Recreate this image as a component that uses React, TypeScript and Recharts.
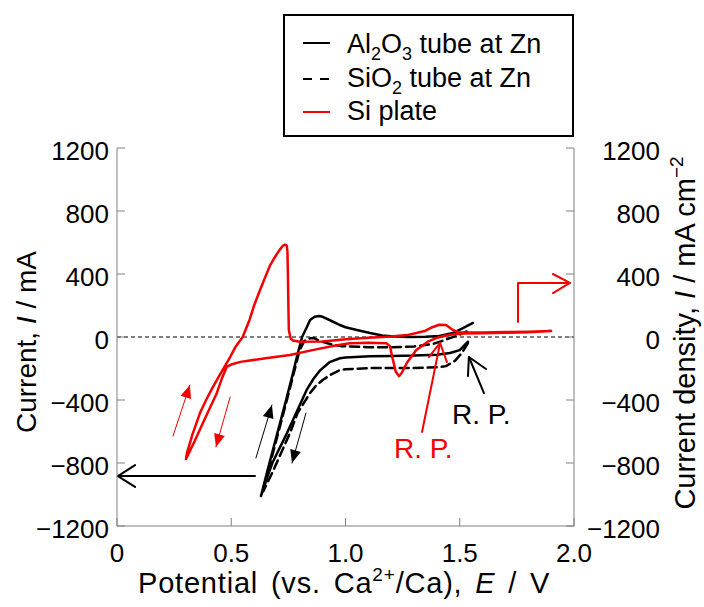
import React from 'react';
import { ComposedChart, Line, XAxis, YAxis, ReferenceLine, Scatter, Legend } from 'recharts';

const FONT = '"Liberation Sans", Arial, Helvetica, sans-serif';
const RED = '#f50000';
const GRID = '#808080';

type P = { x: number; y: number };
const pts = (arr: number[][]): P[] => arr.map(([x, y]) => ({ x, y }));

// axis ticks
const xTicks = [0, 0.5, 1.0, 1.5, 2.0];
const yTicks = [-1200, -800, -400, 0, 400, 800, 1200];

// Al2O3 tube at Zn (solid black): potential (V), current (mA)
const al2o3 = pts([
  [1.536, -30], [1.50, -83], [1.457, -102], [1.40, -112], [1.30, -118], [1.20, -120],
  [1.107, -122], [1.0, -130], [0.976, -135], [0.93, -160], [0.89, -210], [0.86, -265],
  [0.83, -336], [0.79, -463], [0.744, -610], [0.70, -740], [0.68, -800], [0.65, -920],
  [0.63, -1010],
  [0.66, -840], [0.70, -620], [0.74, -400], [0.77, -230], [0.79, -110], [0.81, 0],
  [0.83, 60], [0.845, 108], [0.865, 128], [0.885, 133], [0.90, 128], [0.93, 108],
  [0.976, 76], [1.0, 62], [1.05, 45], [1.107, 25], [1.16, 10], [1.2, 5], [1.27, 0],
  [1.35, 2], [1.41, 6], [1.47, 25], [1.514, 57], [1.558, 89],
]);

// SiO2 tube at Zn (dashed black)
const sio2 = pts([
  [1.536, -38], [1.51, -100], [1.48, -150], [1.44, -185], [1.41, -192], [1.3, -197],
  [1.2, -197], [1.107, -197], [1.0, -205], [0.976, -210], [0.94, -235], [0.9, -273],
  [0.87, -310], [0.845, -356], [0.79, -483], [0.757, -610], [0.72, -730], [0.68, -860],
  [0.64, -980],
  [0.66, -860], [0.70, -640], [0.74, -420], [0.77, -250], [0.80, -80], [0.82, -25],
  [0.845, -8], [0.86, -6], [0.88, -20], [0.92, -40], [0.98, -58], [1.1, -65], [1.2, -65],
  [1.3, -60], [1.38, -45], [1.41, -32], [1.46, -6], [1.5, 15], [1.53, 35],
]);

// Si plate (red)
const siPlate = pts([
  [1.44, 10], [1.40, -5], [1.36, -30], [1.31, -83], [1.27, -160], [1.245, -230],
  [1.234, -248], [1.22, -220], [1.205, -130], [1.195, -60], [1.18, -40], [1.1, -37],
  [1.02, -40], [0.95, -55], [0.85, -85], [0.757, -114], [0.65, -135], [0.54, -158],
  [0.5, -175], [0.48, -190], [0.46, -260], [0.437, -355], [0.41, -440], [0.376, -546],
  [0.34, -660], [0.302, -775],
  [0.306, -737], [0.33, -620], [0.363, -483], [0.39, -400], [0.42, -317], [0.46, -215],
  [0.495, -127], [0.52, -60], [0.55, 0], [0.58, 108], [0.60, 200], [0.626, 298],
  [0.65, 385], [0.67, 455], [0.69, 505], [0.71, 550], [0.725, 578], [0.735, 586],
  [0.743, 580], [0.746, 540], [0.748, 400], [0.750, 200], [0.752, 44], [0.76, -10],
  [0.77, -22], [0.8, -30], [0.9, -28], [1.0, -15], [1.1, -5], [1.2, 3], [1.27, 12],
  [1.31, 25], [1.35, 40], [1.38, 62], [1.41, 78], [1.44, 76], [1.47, 45], [1.5, 28],
  [1.6, 28], [1.7, 31], [1.8, 34], [1.9, 38],
  [1.8, 30], [1.7, 27], [1.6, 24], [1.5, 22], [1.46, 15], [1.44, 10],
]);

// annotations (data coordinates)
const leftArrowShaft = pts([[0.604, -883], [0.004, -883]]);
const leftArrowHead = pts([[0.079, -813], [0.004, -883], [0.079, -952]]);
const rightArrowShaft = pts([[1.755, 95], [1.755, 343], [1.982, 343]]);
const rightArrowHead = pts([[1.908, 400], [1.982, 343], [1.908, 279]]);
const blackRPShaft = pts([[1.606, -356], [1.540, -127]]);
const blackRPHead = pts([[1.536, -248], [1.540, -127], [1.615, -203]]);
const redRPShaft = pts([[1.335, -603], [1.414, -38]]);
const redRPHead = pts([[1.365, -127], [1.414, -38], [1.444, -159]]);
const blackUp = pts([[0.608, -768], [0.678, -432]]);
const blackDown = pts([[0.827, -483], [0.766, -800]]);
const redUp = pts([[0.245, -629], [0.319, -305]]);
const redDown = pts([[0.495, -381], [0.433, -698]]);
const blackRPLabel = [{ x: 1.466, y: -552, text: 'R. P.' }];
const redRPLabel = [{ x: 1.212, y: -768, text: 'R. P.' }];

const fmtY = (v: number) => (v < 0 ? '\u2212' + Math.abs(v) : String(v));
const fmtX = (v: number) => (v === 0 ? '0' : v.toFixed(1));

const makeArrowDot = (color: string) => (props: any) => {
  const { cx, cy, index, points } = props;
  if (!points || index !== points.length - 1) return <g key={`d${index}`} />;
  const p0 = points[0];
  const ang = Math.atan2(cy - p0.y, cx - p0.x);
  const L = 13;
  const W = 5.5;
  const bx = cx - L * Math.cos(ang);
  const by = cy - L * Math.sin(ang);
  const nx = -Math.sin(ang) * W;
  const ny = Math.cos(ang) * W;
  return (
    <polygon
      key={`d${index}`}
      points={`${cx},${cy} ${bx + nx},${by + ny} ${bx - nx},${by - ny}`}
      fill={color}
    />
  );
};

const textStyle = { fontFamily: FONT, fill: '#000' };

const LeftTick = (p: any) => (
  <text x={p.x} y={p.y + 3} dy="0.355em" textAnchor="end" fontSize={26} style={textStyle}>
    {fmtY(p.payload.value)}
  </text>
);
const RightTick = (p: any) => (
  <text x={660} y={p.y + 3} dy="0.355em" textAnchor="end" fontSize={26} style={textStyle}>
    {fmtY(p.payload.value)}
  </text>
);
const BottomTick = (p: any) => (
  <text x={p.x} y={p.y + 36} textAnchor="middle" fontSize={26} style={textStyle}>
    {fmtX(p.payload.value)}
  </text>
);

const LabelText = (p: any) => {
  const { kind } = p;
  if (kind === 'x') {
    return (
      <text
        x={138}
        y={593}
        textAnchor="start"
        fontSize={29}
        style={{ ...textStyle, whiteSpace: 'pre', letterSpacing: '0.8px', wordSpacing: '4px' }}
      >
        <tspan>{'Potential (vs. Ca'}</tspan>
        <tspan dy={-12} fontSize={19}>{'2+'}</tspan>
        <tspan dy={12}>{'/Ca), '}</tspan>
        <tspan fontStyle="italic">{'E'}</tspan>
        <tspan>{' / V'}</tspan>
      </text>
    );
  }
  if (kind === 'l') {
    return (
      <text
        x={26}
        y={342}
        dy="0.355em"
        textAnchor="middle"
        fontSize={28}
        transform="rotate(-90, 26, 342)"
        style={{ ...textStyle, whiteSpace: 'pre' }}
      >
        <tspan>{'Current, '}</tspan>
        <tspan fontStyle="italic">{'I'}</tspan>
        <tspan>{' / mA'}</tspan>
      </text>
    );
  }
  return (
    <text
      x={685}
      y={333}
      dy="0.355em"
      textAnchor="middle"
      fontSize={29}
      transform="rotate(-90, 685, 333)"
      style={{ ...textStyle, whiteSpace: 'pre' }}
    >
      <tspan>{'Current density, '}</tspan>
      <tspan fontStyle="italic">{'I'}</tspan>
      <tspan>{' / mA cm'}</tspan>
      <tspan dy={-12} fontSize={19}>{'\u22122'}</tspan>
    </text>
  );
};

const LegendBox = () => (
  <svg width={291} height={123} style={{ display: 'block', overflow: 'visible' }}>
    <rect x={1} y={1} width={289} height={121} fill="#fff" stroke="#000" strokeWidth={2} />
    <line x1={20} x2={47} y1={29} y2={29} stroke="#000" strokeWidth={2} />
    <line x1={20} x2={47} y1={65} y2={65} stroke="#000" strokeWidth={2} strokeDasharray="9 8" />
    <line x1={20} x2={47} y1={98} y2={98} stroke={RED} strokeWidth={2} />
    <text x={64} y={39} fontSize={27} style={{ ...textStyle, whiteSpace: 'pre' }}>
      <tspan>{'Al'}</tspan>
      <tspan dy={7} fontSize={18}>{'2'}</tspan>
      <tspan dy={-7}>{'O'}</tspan>
      <tspan dy={7} fontSize={18}>{'3'}</tspan>
      <tspan dy={-7}>{' tube at Zn'}</tspan>
    </text>
    <text x={64} y={73} fontSize={27} style={{ ...textStyle, whiteSpace: 'pre' }}>
      <tspan>{'SiO'}</tspan>
      <tspan dy={7} fontSize={18}>{'2'}</tspan>
      <tspan dy={-7}>{' tube at Zn'}</tspan>
    </text>
    <text x={64} y={106} fontSize={27} style={{ ...textStyle, whiteSpace: 'pre' }}>
      {'Si plate'}
    </text>
  </svg>
);

const makeTextShape = (color: string) => (props: any) => (
  <text x={props.cx} y={props.cy} fontSize={28} style={{ fontFamily: FONT, fill: color }}>
    {props.payload.text}
  </text>
);

const lineCommon = {
  xAxisId: 'b',
  yAxisId: 'l',
  dataKey: 'y',
  dot: false,
  activeDot: false,
  isAnimationActive: false,
  strokeLinejoin: 'round' as const,
  strokeLinecap: 'round' as const,
  legendType: 'none' as const,
};

export default function App() {
  return (
    <div style={{ position: 'absolute', left: 0, top: 0 }}>
      <ComposedChart width={704} height={607} margin={{ top: 148, right: 0, bottom: 0, left: 0 }}>
        <XAxis
          xAxisId="b"
          type="number"
          dataKey="x"
          domain={[0, 2]}
          ticks={xTicks}
          allowDataOverflow
          height={81}
          stroke={GRID}
          tickSize={-8}
          tickMargin={8}
          tick={BottomTick}
          label={<LabelText kind="x" />}
        />
        <XAxis
          xAxisId="t"
          orientation="top"
          type="number"
          dataKey="x"
          domain={[0, 2]}
          ticks={xTicks}
          allowDataOverflow
          height={0}
          stroke={GRID}
          tickSize={-8}
          tick={false}
        />
        <YAxis
          yAxisId="l"
          type="number"
          domain={[-1200, 1200]}
          ticks={yTicks}
          allowDataOverflow
          width={117}
          stroke={GRID}
          tickSize={-8}
          tickMargin={16}
          tick={LeftTick}
          label={<LabelText kind="l" />}
        />
        <YAxis
          yAxisId="r"
          orientation="right"
          type="number"
          domain={[-1200, 1200]}
          ticks={yTicks}
          allowDataOverflow
          width={130}
          stroke={GRID}
          tickSize={-8}
          tickMargin={16}
          tick={RightTick}
          label={<LabelText kind="r" />}
        />
        <ReferenceLine xAxisId="b" yAxisId="l" y={0} stroke="#000" strokeWidth={1.2} strokeDasharray="4 3" />

        <Line {...lineCommon} data={sio2} stroke="#000" strokeWidth={2.5} strokeDasharray="9 5" />
        <Line {...lineCommon} data={al2o3} stroke="#000" strokeWidth={2.5} />
        <Line {...lineCommon} data={siPlate} stroke={RED} strokeWidth={2.5} />

        <Line {...lineCommon} data={leftArrowShaft} stroke="#000" strokeWidth={2} />
        <Line {...lineCommon} data={leftArrowHead} stroke="#000" strokeWidth={2} />
        <Line {...lineCommon} data={rightArrowShaft} stroke={RED} strokeWidth={2} />
        <Line {...lineCommon} data={rightArrowHead} stroke={RED} strokeWidth={2} />
        <Line {...lineCommon} data={blackRPShaft} stroke="#000" strokeWidth={2} />
        <Line {...lineCommon} data={blackRPHead} stroke="#000" strokeWidth={2} />
        <Line {...lineCommon} data={redRPShaft} stroke={RED} strokeWidth={2} />
        <Line {...lineCommon} data={redRPHead} stroke={RED} strokeWidth={2} />

        <Line {...lineCommon} data={blackUp} stroke="#000" strokeWidth={1} dot={makeArrowDot('#000')} />
        <Line {...lineCommon} data={blackDown} stroke="#000" strokeWidth={1} dot={makeArrowDot('#000')} />
        <Line {...lineCommon} data={redUp} stroke={RED} strokeWidth={1} dot={makeArrowDot(RED)} />
        <Line {...lineCommon} data={redDown} stroke={RED} strokeWidth={1} dot={makeArrowDot(RED)} />

        <Scatter
          xAxisId="b"
          yAxisId="l"
          data={blackRPLabel}
          dataKey="y"
          isAnimationActive={false}
          legendType="none"
          shape={makeTextShape('#000')}
        />
        <Scatter
          xAxisId="b"
          yAxisId="l"
          data={redRPLabel}
          dataKey="y"
          isAnimationActive={false}
          legendType="none"
          shape={makeTextShape(RED)}
        />

        <Legend
          layout="horizontal"
          verticalAlign="middle"
          align="center"
          wrapperStyle={{ position: 'absolute', left: 283, top: 14, width: 291, height: 123, pointerEvents: 'none' }}
          content={LegendBox}
        />
      </ComposedChart>
    </div>
  );
}
